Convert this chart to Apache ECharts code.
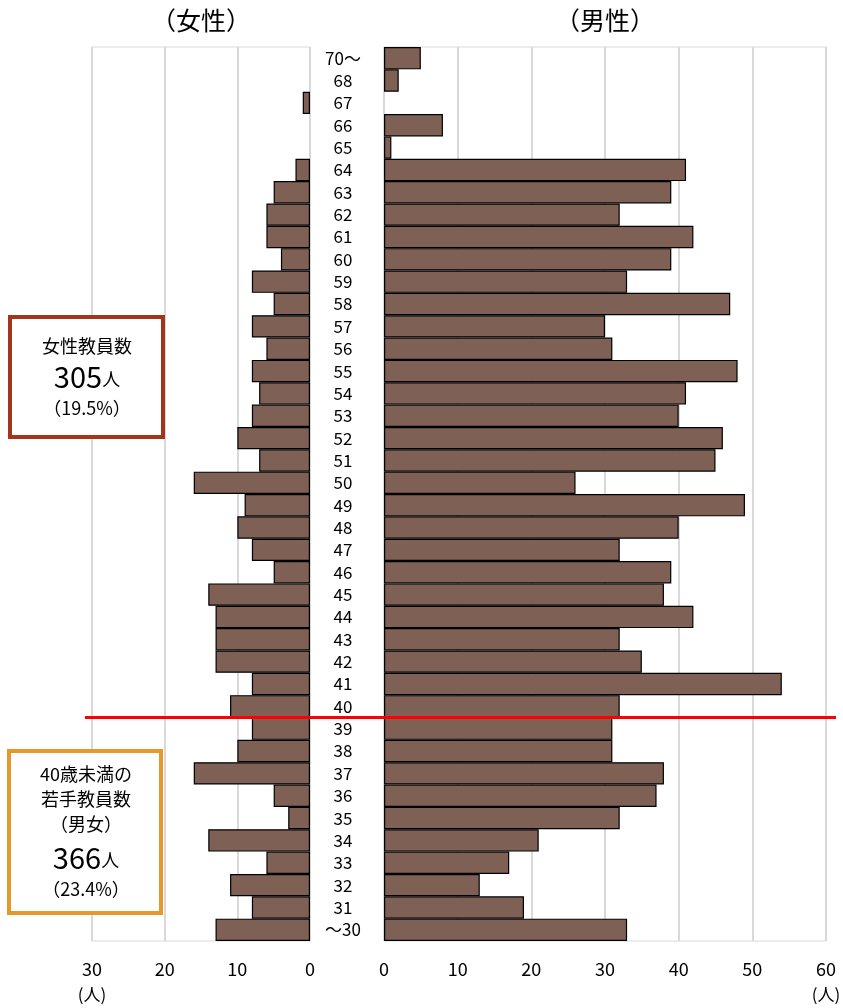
<!DOCTYPE html>
<html><head><meta charset="utf-8">
<script src="https://cdn.jsdelivr.net/npm/echarts@6/dist/echarts.min.js"></script>
<style>html,body{margin:0;padding:0;background:#fff}#c{width:843px;height:1008px}</style>
</head><body><div id="c"></div>
<script>
// categories listed top to bottom
var ages = ['70～','68','67','66','65','64','63','62','61','60','59','58','57','56','55','54','53','52','51','50','49','48','47','46','45','44','43','42','41','40','39','38','37','36','35','34','33','32','31','～30'];
var male = [5,2,0,8,1,41,39,32,42,39,33,47,30,31,48,41,40,46,45,26,49,40,32,39,38,42,32,35,54,32,31,31,38,37,32,21,17,13,19,33];
var female = [0,0,1,0,0,2,5,6,6,4,8,5,8,6,8,7,8,10,7,16,9,10,8,5,14,13,13,13,8,11,8,10,16,5,3,14,6,11,8,13];
var femaleTicks = [0,10,20,30];
var maleTicks = [0,10,20,30,40,50,60];
var panelTitles = ['（女性）','（男性）'];
var unitLabel = '(人)';
var box1Lines = ['女性教員数','305','人','（19.5%）'];
var box2Lines = ['40歳未満の','若手教員数','（男女）','366','人','（23.4%）'];
var youngBoundary = ['40','39'];

var FONT = '"Noto Sans CJK JP","Noto Sans",sans-serif';
var BAR = '#7f6054';
var GRID = '#d9d9d9';

var chart = echarts.init(document.getElementById('c'), null, {renderer:'canvas'});
function nz(a){return a.map(function(v){return v===0?null:v;});}
var option = {
  backgroundColor:'#fff',
  animation:false,
  textStyle:{fontFamily:FONT},
  grid:[
    {left:92, width:218, top:47, height:894, show:true, borderColor:GRID, borderWidth:1},
    {left:384, width:442, top:47, height:894, show:true, borderColor:GRID, borderWidth:1}
  ],
  xAxis:[
    {gridIndex:0, type:'value', inverse:true, min:0, max:femaleTicks[femaleTicks.length-1], interval:10,
     axisLine:{show:false}, axisTick:{show:false},
     axisLabel:{fontSize:18, color:'#000', margin:19, fontFamily:FONT},
     splitLine:{show:true, lineStyle:{color:GRID, width:2}}},
    {gridIndex:1, type:'value', min:0, max:maleTicks[maleTicks.length-1], interval:10,
     axisLine:{show:false}, axisTick:{show:false},
     axisLabel:{fontSize:18, color:'#000', margin:19, fontFamily:FONT},
     splitLine:{show:true, lineStyle:{color:GRID, width:2}}}
  ],
  yAxis:[
    {gridIndex:0, type:'category', data:ages, inverse:true, show:false},
    {gridIndex:1, type:'category', data:ages, inverse:true,
     axisLine:{show:false}, axisTick:{show:false},
     axisLabel:{fontSize:17, color:'#000', margin:41, align:'center', fontFamily:FONT, interval:0}}
  ],
  series:[
    {type:'bar', xAxisIndex:0, yAxisIndex:0, data:nz(female), barCategoryGap:'0%',
     itemStyle:{color:BAR, borderColor:'#000', borderWidth:1.2}},
    {type:'bar', xAxisIndex:1, yAxisIndex:1, data:nz(male), barCategoryGap:'0%',
     itemStyle:{color:BAR, borderColor:'#000', borderWidth:1.2}}
  ]
};
chart.setOption(option);

var yA = chart.convertToPixel({yAxisIndex:1}, youngBoundary[0]);
var yB = chart.convertToPixel({yAxisIndex:1}, youngBoundary[1]);
var lineY = (yA+yB)/2;
var x30 = chart.convertToPixel({xAxisIndex:0}, femaleTicks[femaleTicks.length-1]);
var x60 = chart.convertToPixel({xAxisIndex:1}, maleTicks[maleTicks.length-1]);
var x0f = chart.convertToPixel({xAxisIndex:0}, 0);
var x0m = chart.convertToPixel({xAxisIndex:1}, 0);

function t(x,y,text,size,align){
  return {type:'text', x:x, y:y, style:{text:text, fontSize:size, fontFamily:FONT, fill:'#000', align:align||'center', verticalAlign:'middle'}, z:100};
}
function big(x,y,num,unit){
  return {type:'text', x:x, y:y, style:{rich:{a:{fontSize:29, fontFamily:FONT, fill:'#000'}, b:{fontSize:18, fontFamily:FONT, fill:'#000', verticalAlign:'bottom', padding:[0,0,3,0]}}, text:'{a|'+num+'}{b|'+unit+'}', align:'center', verticalAlign:'middle'}, z:100};
}
chart.setOption({graphic:[
  t((x30+x0f)/2, 20, panelTitles[0], 25),
  t((x0m+x60)/2, 20, panelTitles[1], 25),
  t(x30, 995, unitLabel, 17),
  t(x60, 995, unitLabel, 17),
  {type:'line', shape:{x1:85, y1:lineY, x2:836, y2:lineY}, style:{stroke:'#ff0000', lineWidth:3}, z:100},
  {type:'rect', shape:{x:10, y:317, width:153, height:120}, style:{fill:'#fff', stroke:'#a4341a', lineWidth:4}, z:90},
  t(87, 346, box1Lines[0], 18),
  big(87, 377, box1Lines[1], box1Lines[2]),
  t(87, 408, box1Lines[3], 18),
  {type:'rect', shape:{x:9, y:751, width:152, height:162}, style:{fill:'#fff', stroke:'#e49a2a', lineWidth:4}, z:90},
  t(86, 774, box2Lines[0], 18),
  t(86, 799, box2Lines[1], 18),
  t(86, 824, box2Lines[2], 18),
  big(86, 858, box2Lines[3], box2Lines[4]),
  t(86, 889, box2Lines[5], 18)
]});
</script></body></html>
